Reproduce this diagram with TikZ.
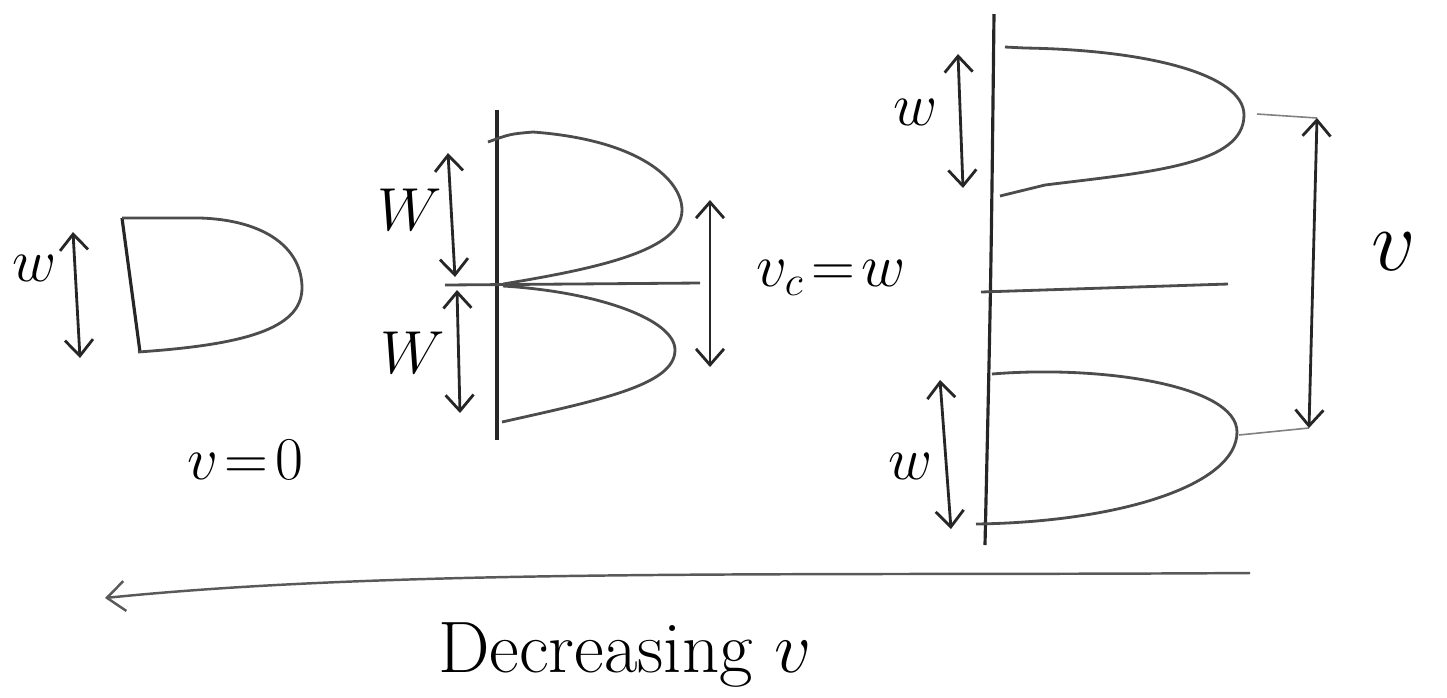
\documentclass[tikz,border=0pt]{standalone}
\usepackage{amsmath}
\usetikzlibrary{arrows.meta,positioning}
\tikzset{
  wall/.style={line width=0.9pt, black!85},
  lobe/.style={line width=0.8pt, black!70},
  leader/.style={line width=0.45pt, black!50},
  dimarrow/.style={
    {Straight Barb[length=1.6mm,width=2.8mm]}-{Straight Barb[length=1.6mm,width=2.8mm]},
    line width=0.8pt, black!85
  },
  lab/.style={font=\LARGE, inner sep=1pt}
}

\begin{document}
\begin{tikzpicture}[x=0.1mm,y=-0.1mm]
\useasboundingbox (0,0) rectangle (1447,697);

% no flow
\draw[wall] (122,218) -- (140,352);
\draw[lobe] (122,218) -- (200,218) .. controls (265,220) and (302,248) .. (302,288)
  .. controls (302,330) and (240,345) .. (138,352);
\coordinate (wa1) at (73,232);
\coordinate (wb1) at (80,358);
\draw[dimarrow] (wa1) -- (wb1);
\node[lab] (w1) at (35,268) {$w$};
\node[lab] (vzero) at (245,460) {$v\!=\!0$};

% critical spacing
\draw[wall] (497,110) -- (497,440);
\draw[lobe] (488,142) .. controls (510,134) .. (533,132) .. controls (640,140) and (682,180) .. (682,210)
  .. controls (682,250) and (600,268) .. (503,284);
\draw[lobe] (503,286) .. controls (600,292) and (675,320) .. (675,350)
  .. controls (675,385) and (600,400) .. (502,422);
\coordinate (mida) at (445,285);
\coordinate (midb) at (700,283);
\draw[lobe] (mida) -- (midb);
\coordinate (wa2) at (448,153);
\coordinate (wb2) at (455,277);
\coordinate (wc2) at (457,290);
\coordinate (wd2) at (460,413);
\draw[dimarrow] (wa2) -- (wb2);
\draw[dimarrow] (wc2) -- (wd2);
\node[lab] (w2a) at (410,210) {$W$};
\node[lab] (w2b) at (413,353) {$W$};
\coordinate (vca) at (710,200);
\coordinate (vcb) at (710,367);
\draw[dimarrow] (vca) -- (vcb);
\node[lab, anchor=west] (vc) at (752,278) {$v_c\!=\!w$};

% large spacing
\draw[wall] (994,14) .. controls (991,280) .. (985,545);
\draw[lobe] (1005,47) -- (1025,48) .. controls (1150,50) and (1244,75) .. (1244,115)
  .. controls (1244,165) and (1150,172) .. (1045,185) -- (1000,196);
\draw[lobe] (992,374) .. controls (1100,365) and (1237,385) .. (1237,432)
  .. controls (1237,485) and (1120,522) .. (976,524);
\coordinate (gapa) at (981,292);
\coordinate (gapb) at (1228,284);
\draw[lobe] (gapa) -- (gapb);
\coordinate (tipa) at (1257,114);
\coordinate (tipb) at (1239,435);
\coordinate (va) at (1317,118);
\coordinate (vb) at (1309,428);
\draw[leader] (tipa) -- (va);
\draw[leader] (tipb) -- (vb);
\draw[dimarrow] (va) -- (vb);
\node[lab, font=\Huge] (v) at (1394,252) {$v$};
\coordinate (wa3) at (958,54);
\coordinate (wb3) at (963,188);
\coordinate (wc3) at (940,380);
\coordinate (wd3) at (951,529);
\draw[dimarrow] (wa3) -- (wb3);
\draw[dimarrow] (wc3) -- (wd3);
\node[lab] (w3a) at (916,112) {$w$};
\node[lab] (w3b) at (911,466) {$w$};

% direction
\coordinate (deca) at (1250,573);
\coordinate (decb) at (105,598);
\draw[line width=0.7pt, black!65, -{Straight Barb[length=1.8mm,width=3mm]}]
  (deca) .. controls (800,576) and (400,568) .. (decb);
\node[font=\huge] (dec) at (625,655) {Decreasing $v$};
\end{tikzpicture}
\end{document}
